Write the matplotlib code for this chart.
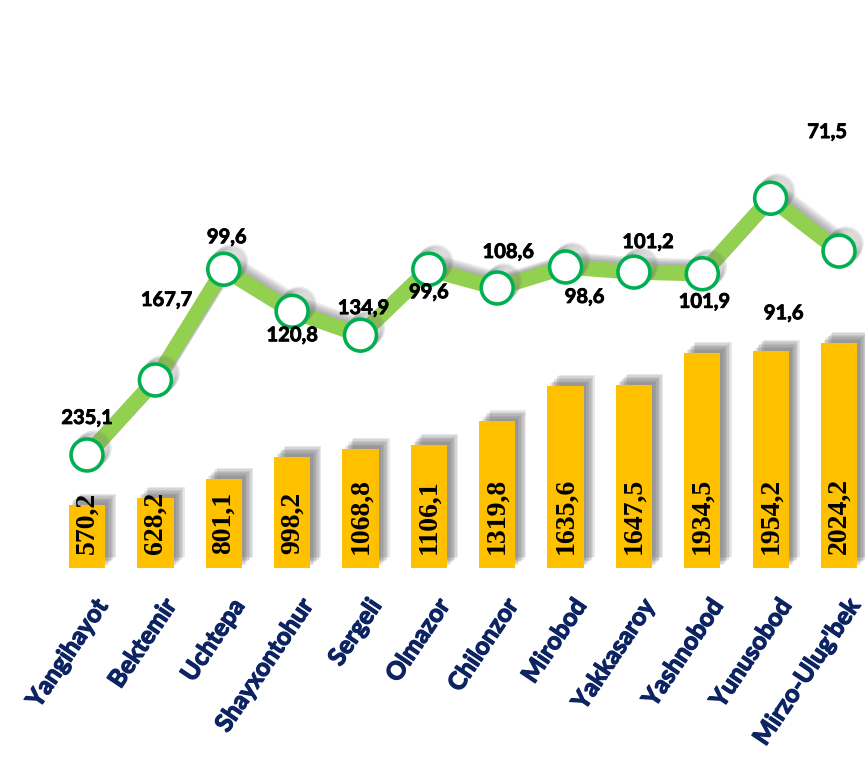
import matplotlib
matplotlib.use("Agg")
import matplotlib.pyplot as plt
import matplotlib.patheffects as pe

# districts and values
districts = ["Yangihayot", "Bektemir", "Uchtepa", "Shayxontohur", "Sergeli", "Olmazor",
             "Chilonzor", "Mirobod", "Yakkasaroy", "Yashnobod", "Yunusobod", "Mirzo-Ulug'bek"]
bar_values = [570.2, 628.2, 801.1, 998.2, 1068.8, 1106.1,
              1319.8, 1635.6, 1647.5, 1934.5, 1954.2, 2024.2]
line_labels = [235.1, 167.7, 99.6, 120.8, 134.9, 99.6,
               108.6, 98.6, 101.2, 101.9, 91.6, 71.5]
# height of the line points (secondary scale 0-100)
line_levels = [19.9, 33.1, 52.6, 45.2, 41.0, 52.6,
               49.3, 53.0, 52.1, 51.8, 65.1, 55.8]

# label offsets for the line values (pixels)
label_offsets = [(0, 37), (11, 80), (3, 32), (0, -24), (3, 27), (0, -23),
                 (11, 36), (19, -30), (14, 30), (2, -28), (13, -115), (-12, 119)]

fmt = lambda v: f"{v:.1f}".replace(".", ",")

# soft shadows: stack of faint copies
bar_shadow = [pe.SimplePatchShadow(offset=(k, k), shadow_rgbFace="#6a6a6a", alpha=0.15)
              for k in (2, 3, 4, 5, 6, 7, 8)] + [pe.Normal()]
line_shadow = [pe.SimpleLineShadow(offset=(k, k), shadow_color="#707070", alpha=0.14)
               for k in (1, 2, 3, 4, 5)] + [pe.Normal()]

fig = plt.figure(figsize=(8.65, 7.62), dpi=100)
ax = fig.add_axes([0, 194 / 762, 1, 568 / 762])
ax.set_xlim(-1.273, 11.38)
ax.set_ylim(0, 5110)
ax.axis("off")

x = list(range(len(districts)))
bars = ax.bar(x, bar_values, width=0.53, color="#FFC000", zorder=2)
for b in bars:
    b.set_path_effects(bar_shadow)

for i, v in enumerate(bar_values):
    ax.annotate(fmt(v), (i, 0), xytext=(0, 14), textcoords="offset pixels",
                rotation=90, ha="center", va="bottom", fontsize=20,
                fontweight="bold", family="Liberation Serif", color="black", zorder=3)

for i, name in enumerate(districts):
    ax.annotate(name, (i, 0), xytext=(6, -27), textcoords="offset pixels",
                rotation=56, rotation_mode="anchor", ha="right", va="top",
                fontsize=17.8, fontweight="bold", family="Lato", color="#0D2463",
                annotation_clip=False,
                path_effects=[pe.withStroke(linewidth=0.9, foreground="#0D2463")])

ax2 = ax.twinx()
ax2.set_ylim(0, 100)
ax2.axis("off")
ax2.plot(x, line_levels, color="#92D050", linewidth=11, solid_joinstyle="miter",
         marker="o", markersize=23, markerfacecolor="white", markeredgecolor="#00B050",
         markeredgewidth=2.6, zorder=4, path_effects=line_shadow)

for i, (v, lv) in enumerate(zip(line_labels, line_levels)):
    dx, dy = label_offsets[i]
    ax2.annotate(fmt(v), (i, lv), xytext=(dx, dy), textcoords="offset pixels",
                 ha="center", va="center", fontsize=14.5, fontweight="bold",
                 family="Lato", color="black", zorder=5,
                 path_effects=[pe.withStroke(linewidth=0.6, foreground="black")])

fig.savefig("out.png", dpi=100)
